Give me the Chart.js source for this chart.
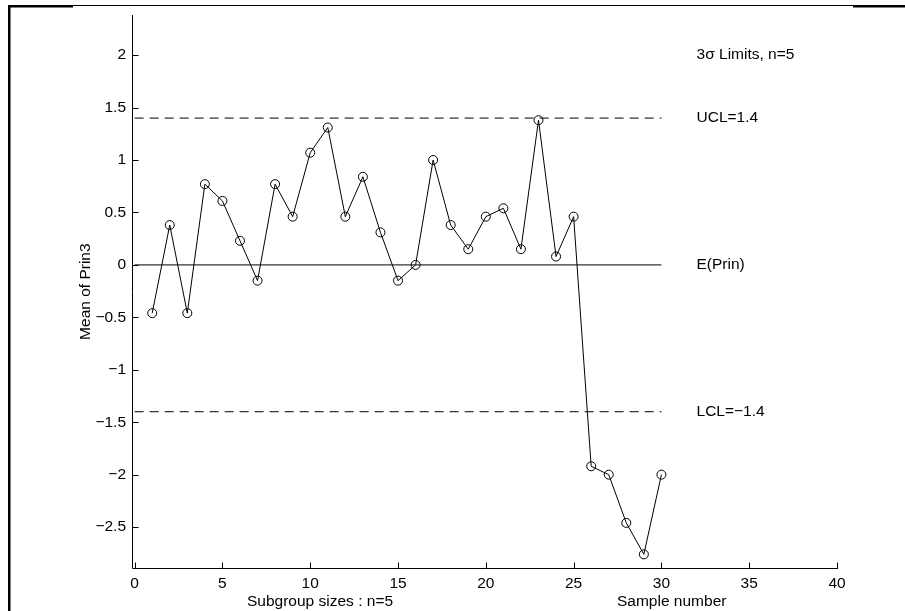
<!DOCTYPE html>
<html>
<head>
<meta charset="utf-8">
<script src="https://cdn.jsdelivr.net/npm/chart.js@4.4.0/dist/chart.umd.min.js"></script>
<style>
    html, body { margin: 0; padding: 0; background: #fff; }
    #wrap { width: 905px; height: 611px; position: relative; }
</style>
</head>
<body>
<div id="wrap"><canvas id="chart" width="905" height="611"></canvas></div>
<script>
// Subgroup means
const samples = [1, 2, 3, 4, 5, 6, 7, 8, 9, 10, 11, 12, 13, 14, 15,
                 16, 17, 18, 19, 20, 21, 22, 23, 24, 25, 26, 27, 28, 29, 30];
const means = [-0.46, 0.38, -0.46, 0.77, 0.61, 0.23, -0.15, 0.77, 0.46, 1.07,
               1.31, 0.46, 0.84, 0.31, -0.15, 0.0, 1.0, 0.38, 0.15, 0.46,
               0.54, 0.15, 1.38, 0.08, 0.46, -1.92, -2.0, -2.46, -2.76, -2.0];

// Control limits
const centerLine = 0;
const ucl = 1.4;
const lcl = -1.4;
const limitStart = 0;
const limitEnd = 30;

// Tick labels
const xTicks = [0, 5, 10, 15, 20, 25, 30, 35, 40];
const yTicks = [-2.5, -2, -1.5, -1, -0.5, 0, 0.5, 1, 1.5, 2];

// Right-hand annotations: [text, y value]
const notes = [
    ['3\u03c3 Limits, n=5', 2],
    ['UCL=1.4', ucl],
    ['E(Prin)', centerLine],
    ['LCL=\u22121.4', lcl]
];
const noteX = 32;

const FONT = '"Liberation Sans", Arial, sans-serif';
const FSIZE = 15.5;

function fmt(v) {
    return String(v).replace('-', '\u2212');
}

// Frame, axis lines, inward ticks and texts
const decorations = {
    id: 'decorations',
    beforeDraw(chart) {
        const ctx = chart.ctx;
        ctx.save();
        ctx.fillStyle = '#fff';
        ctx.fillRect(0, 0, chart.width, chart.height);
        ctx.fillStyle = '#000';
        // page frame
        ctx.fillRect(8, 5, 897, 1);
        ctx.fillRect(8, 5, 65, 2.5);
        ctx.fillRect(853, 5, 52, 2.5);
        ctx.fillRect(8, 5, 2.5, 606);
        ctx.restore();
    },
    afterDraw(chart) {
        const ctx = chart.ctx;
        const area = chart.chartArea;
        const xs = chart.scales.x;
        const ys = chart.scales.y;
        ctx.save();
        ctx.strokeStyle = '#000';
        ctx.lineWidth = 1;
        ctx.beginPath();
        const ax = Math.round(area.left) + 0.5;
        const ay = Math.round(area.bottom) + 0.5;
        ctx.moveTo(ax, Math.round(area.top));
        ctx.lineTo(ax, ay);
        ctx.lineTo(Math.round(area.right) + 1, ay);
        xTicks.forEach(v => {
            const px = Math.round(xs.getPixelForValue(v)) + 0.5;
            ctx.moveTo(px, ay);
            ctx.lineTo(px, ay - 6);
        });
        yTicks.forEach(v => {
            const py = Math.round(ys.getPixelForValue(v)) + 0.5;
            ctx.moveTo(ax, py);
            ctx.lineTo(ax + 6, py);
        });
        ctx.stroke();

        ctx.fillStyle = '#000';
        ctx.font = FSIZE + 'px ' + FONT;
        ctx.textAlign = 'left';
        ctx.textBaseline = 'middle';
        notes.forEach(([t, v]) => {
            ctx.fillText(t, xs.getPixelForValue(noteX), ys.getPixelForValue(v));
        });

        // axis titles
        ctx.fillText('Subgroup sizes : n=5', 247, 602);
        ctx.fillText('Sample number', 617, 602);
        ctx.translate(86, (area.top + area.bottom) / 2);
        ctx.rotate(-Math.PI / 2);
        ctx.textAlign = 'center';
        ctx.fillText('Mean of Prin3', 0, 0);
        ctx.restore();
    }
};

function limitLine(value, dashed) {
    return {
        data: [{ x: limitStart, y: value }, { x: limitEnd, y: value }],
        borderColor: '#000',
        borderWidth: 1,
        borderDash: dashed ? [9, 6] : [],
        pointRadius: 0,
        fill: false
    };
}

new Chart(document.getElementById('chart'), {
    type: 'line',
    data: {
        datasets: [
            limitLine(ucl, true),
            limitLine(centerLine, false),
            limitLine(lcl, true),
            {
                data: samples.map((s, i) => ({ x: s, y: means[i] })),
                borderColor: '#000',
                borderWidth: 1,
                pointRadius: 4.5,
                pointBorderWidth: 1,
                pointBorderColor: '#000',
                pointBackgroundColor: 'rgba(0,0,0,0)',
                tension: 0,
                fill: false
            }
        ]
    },
    options: {
        responsive: false,
        animation: false,
        events: [],
        layout: { padding: { top: 13, right: 68, left: 0, bottom: 0 } },
        plugins: {
            legend: { display: false },
            tooltip: { enabled: false }
        },
        scales: {
            x: {
                type: 'linear',
                min: -0.15,
                max: 40,
                afterFit: s => { s.height = 43; },
                afterBuildTicks: s => { s.ticks = xTicks.map(v => ({ value: v })); },
                grid: { display: false, drawTicks: false },
                border: { display: false },
                ticks: {
                    color: '#000',
                    padding: 6,
                    maxRotation: 0,
                    font: { family: FONT, size: FSIZE },
                    callback: v => fmt(v)
                }
            },
            y: {
                type: 'linear',
                min: -2.89,
                max: 2.38,
                afterFit: s => { s.width = 132; },
                afterBuildTicks: s => { s.ticks = yTicks.map(v => ({ value: v })); },
                grid: { display: false, drawTicks: false },
                border: { display: false },
                ticks: {
                    color: '#000',
                    padding: 6,
                    font: { family: FONT, size: FSIZE },
                    callback: v => fmt(v)
                }
            }
        }
    },
    plugins: [decorations]
});
</script>
</body>
</html>
